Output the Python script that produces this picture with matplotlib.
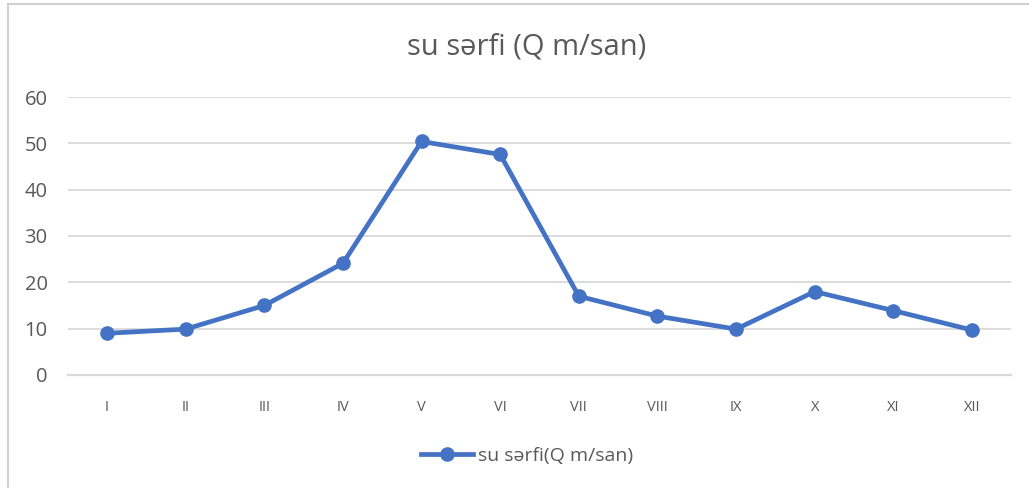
import matplotlib.pyplot as plt
from matplotlib.lines import Line2D

# monthly water discharge
months = ["I", "II", "III", "IV", "V", "VI", "VII", "VIII", "IX", "X", "XI", "XII"]
discharge = [9.0, 9.9, 15.0, 24.1, 50.4, 47.6, 17.0, 12.7, 9.9, 18.0, 13.9, 9.7]
y_ticks = [0, 10, 20, 30, 40, 50, 60]

blue = "#4472C4"
grey_text = "#595959"
grid_col = "#D9D9D9"

plt.rcParams["font.family"] = ["Open Sans", "DejaVu Sans"]

fig = plt.figure(figsize=(10.29, 4.88), dpi=100)
ax = fig.add_axes([0.0658, 0.2316, 0.917, 0.5696])

x = range(len(months))
ax.plot(x, discharge, color=blue, lw=3.4, marker="o", ms=9.5,
        solid_joinstyle="round", label="su sərfi(Q m/san)")

ax.set_xlim(-0.5, len(months) - 0.5)
ax.set_ylim(0, 60)
ax.set_yticks(y_ticks)
ax.set_xticks(list(x))
ax.set_xticklabels(months)
ax.yaxis.grid(True, color=grid_col, lw=1.3)
ax.set_axisbelow(True)
for s in ["top", "right", "left"]:
    ax.spines[s].set_visible(False)
ax.spines["bottom"].set_color(grid_col)
ax.spines["bottom"].set_linewidth(1.6)
ax.tick_params(axis="both", length=0, colors=grey_text)
ax.tick_params(axis="y", labelsize=14.5, pad=14.5)
ax.tick_params(axis="x", labelsize=10.5, pad=18)

fig.text(0.512, 0.903, "su sərfi (Q m/san)", ha="center", va="center",
         fontsize=21, color=grey_text)

handle = Line2D([], [], color=blue, lw=3.4, marker="o", ms=9.5)
fig.legend([handle], ["su sərfi(Q m/san)"], loc="center",
           bbox_to_anchor=(0.512, 0.066), frameon=False, fontsize=14,
           labelcolor=grey_text, handlelength=2.7, handletextpad=0.25)

# chart frame (left and top edges visible)
fig.add_artist(Line2D([8 / 1029, 8 / 1029], [0, 1 - 4 / 488],
                      transform=fig.transFigure, color="#D0D0D0", lw=1.5))
fig.add_artist(Line2D([8 / 1029, 1], [1 - 4 / 488, 1 - 4 / 488],
                      transform=fig.transFigure, color="#D0D0D0", lw=1.5))

fig.savefig("out.png", dpi=100)
